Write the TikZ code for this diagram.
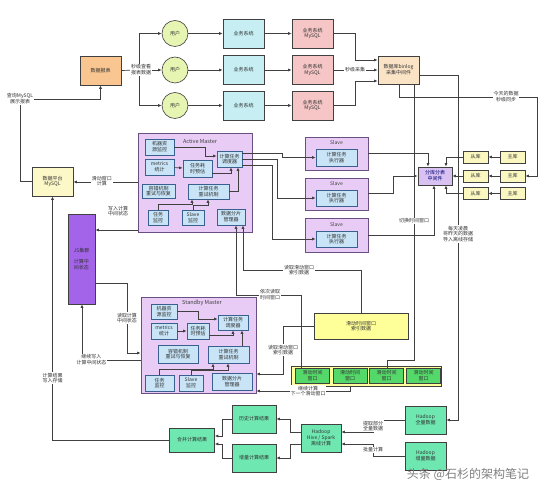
\documentclass[tikz,border=0pt]{standalone}
\usepackage{fontspec}
\setmainfont{Noto Sans CJK SC}
\usetikzlibrary{arrows.meta}
\definecolor{linec}{HTML}{404040}
\definecolor{fReport}{HTML}{F9C590}
\definecolor{fUser}{HTML}{E6F5B2}
\definecolor{fSys}{HTML}{C6EEF3}
\definecolor{fMy}{HTML}{F6C6C6}
\definecolor{fBin}{HTML}{FBE3C6}
\definecolor{fMaster}{HTML}{E8CCF5}
\definecolor{bMaster}{HTML}{6A5080}
\definecolor{fInner}{HTML}{C8E4F6}
\definecolor{bInner}{HTML}{3A6090}
\definecolor{fShard}{HTML}{D9C2F2}
\definecolor{fDb}{HTML}{FAF7C0}
\definecolor{fPlat}{HTML}{FDF8C8}
\definecolor{fJs}{HTML}{A364EA}
\definecolor{fIdx}{HTML}{FFFF99}
\definecolor{fWin}{HTML}{55D86A}
\definecolor{fHad}{HTML}{6EE7B0}
\begin{document}
\begin{tikzpicture}[x=1pt,y=-1pt,
  font=\fontsize{5}{5.8}\selectfont,
  >={Latex[length=3.5pt,width=3pt]},
  conn/.style={draw=linec,line width=0.7pt},
  bx/.style={draw=linec,line width=0.6pt,fill=#1,inner sep=0.5pt,align=center,rectangle,text=black!80},
  inbx/.style={draw=bInner,line width=0.6pt,fill=fInner,inner sep=0.5pt,align=center,rectangle,text=black!80},
  lbl/.style={fill=white,inner sep=0.6pt,align=center,text=black!80},
  ttl/.style={inner sep=0pt,text=black!75,font=\fontsize{5.5}{6}\selectfont}]
\useasboundingbox (0,0) rectangle (550,486);
\fill[white] (0,0) rectangle (550,486);

% ---------- top row ----------
\node[bx=fReport,minimum width=41pt,minimum height=29pt] (report) at (100.5,70.5) {数据报表};
\foreach \i/\y in {1/33.5,2/70,3/105.5}{
  \node[bx=fUser,circle,minimum size=26pt] (u\i) at (175,\y) {用户};
  \node[bx=fSys,minimum width=41pt,minimum height=29pt] (b\i) at (243.5,\y) {业务系统};
  \node[bx=fMy,minimum width=41pt,minimum height=29pt] (m\i) at (312.5,\y) {业务系统\\MySQL};
  \draw[conn,->] (u\i) -- (b\i);
  \draw[conn,->] (b\i) -- (m\i);
}
\node[bx=fBin,minimum width=41pt,minimum height=28pt] (binlog) at (398.5,70) {数据库binlog\\采集中间件};
\coordinate (split) at (139,70);
\draw[conn] (report.east) -- (split);
\draw[conn,->] (split) |- (u1);
\draw[conn,->] (split) |- (u3);
\draw[conn,->] (split) -- (u2);
\node[lbl] at (141,70) {秒级查看\\报表数据};
\draw[conn,->] (m1.east) -- (355,33.5) |- (binlog.west |- 0,60);
\draw[conn,->] (m2.east) -- (binlog.west);
\node[lbl] at (355,70) {秒级采集};
\draw[conn,->] (m3.east) -- (355,105.5) |- (binlog.west |- 0,81);

% ---------- data platform ----------
\node[bx=fPlat,minimum width=41pt,minimum height=29pt] (dbp) at (52.5,181.5) {数据平台\\MySQL};
\node[lbl] (q) at (20,99) {查询MySQL\\展示报表};
\draw[conn] (dbp.west) -| (q.south);
\draw[conn,->] (q.east) -| (report.south);

\node[bx=fJs,minimum width=27pt,minimum height=90pt] (js) at (81.5,259) {JS集群\\[6pt]计算中\\间状态};

% ---------- Active Master ----------
\node[draw=bMaster,line width=0.7pt,fill=fMaster,minimum width=114pt,minimum height=99pt] (am) at (195,182.5) {};
\node[ttl] at (200,141) {Active Master};
\node[inbx,minimum width=29pt,minimum height=16pt] (a_res) at (159.5,147) {机器资\\源监控};
\node[inbx,minimum width=29pt,minimum height=16pt] (a_met) at (159.5,167) {metrics\\统计};
\node[inbx,minimum width=29pt,minimum height=17pt] (a_est) at (197.5,168.5) {任务耗\\时预估};
\node[inbx,minimum width=25pt,minimum height=16pt] (a_sch) at (229.5,159) {计算任务\\调度器};
\node[inbx,minimum width=33pt,minimum height=14pt] (a_ft) at (158.5,191) {容错机制\\重试与恢复};
\node[inbx,minimum width=41pt,minimum height=15pt] (a_retry) at (208.5,191.5) {计算任务\\重试机制};
\node[inbx,minimum width=20pt,minimum height=15pt] (a_mon) at (158,217.5) {任务\\监控};
\node[inbx,minimum width=22pt,minimum height=15pt] (a_smon) at (193,217.5) {Slave\\监控};
\node[inbx,minimum width=28pt,minimum height=16pt] (a_shard) at (231,217) {数据分片\\管理器};
\draw[conn,->] (a_res.east) -- (205,147) |- (a_sch.west |- 0,156);
\draw[conn,->] (a_met) -- (a_est);
\draw[conn,->] (a_est.east |- 0,173) -| (a_sch.south -| 231,0);
\draw[conn,->] (a_retry.east) -| (a_sch.south -| 238,0);
\draw[conn,->] (a_mon.north) |- (192,204) -- (a_retry.south -| 192,0);
\draw[conn,->] (a_smon.north) |- (208,205) -- (a_retry.south -| 208,0);

% ---------- Standby Master ----------
\node[draw=bMaster,line width=0.7pt,fill=fMaster,minimum width=115pt,minimum height=96pt] (sm) at (198.5,345) {};
\node[ttl] at (202,303) {Standby Master};
\node[inbx,minimum width=26pt,minimum height=15pt] (s_res) at (164,311.5) {机器资\\源监控};
\node[inbx,minimum width=26pt,minimum height=16pt] (s_met) at (164,331) {metrics\\统计};
\node[inbx,minimum width=22pt,minimum height=16pt] (s_est) at (198,331) {任务耗\\时预估};
\node[inbx,minimum width=30pt,minimum height=15pt] (s_sch) at (233,322.5) {计算任务\\调度器};
\node[inbx,minimum width=40pt,minimum height=18pt] (s_ft) at (178,354) {容错机制\\重试与恢复};
\node[inbx,minimum width=41pt,minimum height=17pt] (s_retry) at (228.5,354.5) {计算任务\\重试机制};
\node[inbx,minimum width=29pt,minimum height=16pt] (s_mon) at (159.5,383) {任务\\监控};
\node[inbx,minimum width=24pt,minimum height=16pt] (s_smon) at (191,383) {Slave\\监控};
\node[inbx,minimum width=40pt,minimum height=17pt] (s_shard) at (232,381.5) {数据分片\\管理器};
\draw[conn,->] (s_res.east) -- (198,311.5) |- (s_sch.west |- 0,319);
\draw[conn,->] (s_met) -- (s_est);
\draw[conn,->] (s_est.east |- 0,335) -| (s_sch.south -| 233,0);
\draw[conn,->] (s_retry.north -| 242,0) -- (s_sch.south -| 242,0);
\draw[conn,->] (s_mon.north) |- (213,369) -- (s_retry.south -| 213,0);
\draw[conn,->] (s_smon.north) |- (228,370) -- (s_retry.south -| 228,0);

% ---------- master links ----------
\draw[conn,->] (am.west |- 0,182) -- (dbp.east |- 0,182);
\node[lbl] at (102,181) {滑动窗口\\计算};
\draw[conn,->] (am.west |- 0,230) -- (js.east |- 0,230);
\node[lbl] at (118,211) {写入计算\\中间状态};
\draw[conn,->] (js.east |- 0,283) -- (127,283) |- (sm.west |- 0,353);
\node[lbl] at (127,318) {读取计算\\中间状态};
\draw[conn,->] (sm.west |- 0,360) -- (82,360) -- (js.south -| 82,0);
\node[lbl] at (91.5,360) {继续写入\\计算中间状态};

% ---------- Slaves ----------
\foreach \i/\y/\h in {1/153.5/33,2/194/32,3/235/34}{
  \node[draw=bMaster,line width=0.7pt,fill=fMaster,minimum width=63pt,minimum height=\h pt] (sl\i) at (336.5,\y) {};
  \node[ttl,font=\fontsize{5}{5}\selectfont] at (336.5,\y-10.5) {Slave};
}
\node[inbx,minimum width=41pt,minimum height=17pt] (e1) at (336.5,157.5) {计算任务\\执行器};
\node[inbx,minimum width=41pt,minimum height=16pt] (e2) at (336.5,198) {计算任务\\执行器};
\node[inbx,minimum width=41pt,minimum height=16pt] (e3) at (336.5,239) {计算任务\\执行器};
\draw[conn,->] (a_sch.east |- 0,153) -- (282,153) |- (e1.west);
\draw[conn,->] (a_sch.east |- 0,159) -- (277,159) |- (e2.west);
\draw[conn,->] (a_sch.east |- 0,165) -- (272,165) |- (e3.west);

% ---------- sharding middleware & DBs ----------
\node[bx=fShard,minimum width=34pt,minimum height=18pt,text=blue!45!black] (sh) at (435,176) {分库分表\\中间件};
\foreach \i/\y in {1/157,2/176,3/193.5}{
  \node[bx=fDb,minimum width=25pt,minimum height=12pt] (c\i) at (475.5,\y) {从库};
  \node[bx=fDb,minimum width=25pt,minimum height=12pt] (p\i) at (512.5,\y) {主库};
  \draw[conn,->] (p\i) -- (c\i);
}
\draw[conn,->] (c1.west) -| (sh.north -| 446,0);
\draw[conn,->] (c2.west) -- (sh.east);
\draw[conn,->] (c3.west) -| (sh.south -| 446,0);
\draw[conn,->] (sl1.east) -| (sh.north -| 428,0);
\draw[conn,->] (sl2.east |- 0,193) -- (393,193) |- (sh.west);
\draw[conn,->] (sl3.east) -| (sh.south -| 434,0);

\draw[conn,->] (binlog.south -| 399,0) -- (399,97) -- (537,97) |- (p2.east);
\node[lbl] at (506,96.5) {今天的数据\\秒级同步};

% ---------- sliding windows ----------
\node[bx=fIdx,minimum width=94pt,minimum height=26pt] (idx) at (361,326) {滑动时间窗口\\索引数据};
\node[bx=fIdx,minimum width=150pt,minimum height=20pt] (cont) at (366,376) {};
\foreach \i/\x in {1/312.5,2/350,3/386.5,4/423.5}{
  \node[bx=fWin,minimum width=34pt,minimum height=15pt] (w\i) at (\x,376) {滑动时间\\窗口};
}
\draw[conn] (binlog.south -| 414,0) -- (414,360) -- (387,360) -- (w3.north -| 387,0);
\node[lbl] at (414,221) {切换时间窗口};
\draw[conn,->] (w1.north -| 301,0) -- (301,295) -- (236,295) -- (a_shard.south -| 236,0);
\node[lbl] at (270,295) {依次读取\\时间窗口};
\draw[conn,->] (idx.north) -- (361,270) -- (243,270) -- (a_shard.south -| 243,0);
\node[lbl] at (299,270) {读取滑动窗口\\索引数据};
\draw[conn,->] (idx.west) -- (283,326) -- (283,374) -- (sm.east |- 0,374);
\node[lbl] at (283,350) {读取滑动窗口\\索引数据};
\draw[conn,->] (cont.south -| 350,0) -- (350,391) -- (sm.east |- 0,391);
\node[lbl] at (308,391) {继续计算\\下一个滑动窗口};

% ---------- Hadoop ----------
\node[bx=fHad,minimum width=41pt,minimum height=28pt] (full) at (425.5,420) {Hadoop\\全量数据};
\node[bx=fHad,minimum width=41pt,minimum height=28pt] (inc) at (425.5,456) {Hadoop\\增量数据};
\node[bx=fHad,minimum width=40pt,minimum height=28pt] (hive) at (321,438) {Hadoop\\Hive / Spark\\离线计算};
\node[bx=fHad,minimum width=44pt,minimum height=28pt] (hist) at (254,419) {历史计算结果};
\node[bx=fHad,minimum width=44pt,minimum height=28pt] (incr) at (254,458) {增量计算结果};
\node[bx=fHad,minimum width=45pt,minimum height=24pt] (merge) at (192,440) {合并计算结果};
\draw[conn,->] (binlog.east |- 0,75) -- (458,75) |- (full.east);
\node[lbl] at (458,234) {每天凌晨\\将昨天的数据\\导入离线存储};
\draw[conn,->] (full.west) -- (373,420) -- (373,432) -- (hive.east |- 0,432);
\node[lbl] at (373,426) {提取部分\\全量数据};
\draw[conn,->] (inc.west) -- (373,456) -- (373,444) -- (hive.east |- 0,444);
\node[lbl] at (373,450) {批量计算};
\draw[conn,->] (hive.west |- 0,432) -- (290,432) |- (hist.east);
\draw[conn,->] (hive.west |- 0,444) -- (290,444) |- (incr.east);
\draw[conn,->] (hist.west) -- (222,419) |- (merge.east |- 0,436);
\draw[conn,->] (incr.west) -- (222,458) |- (merge.east |- 0,444);
\draw[conn,->] (merge.west) -| (dbp.south);
\node[lbl] at (52.5,378) {计算结果\\写入存储};

\node[inner sep=0pt,text=black!50,font=\fontsize{12}{12}\selectfont] at (468,474) {头条 @石杉的架构笔记};
\end{tikzpicture}
\end{document}
